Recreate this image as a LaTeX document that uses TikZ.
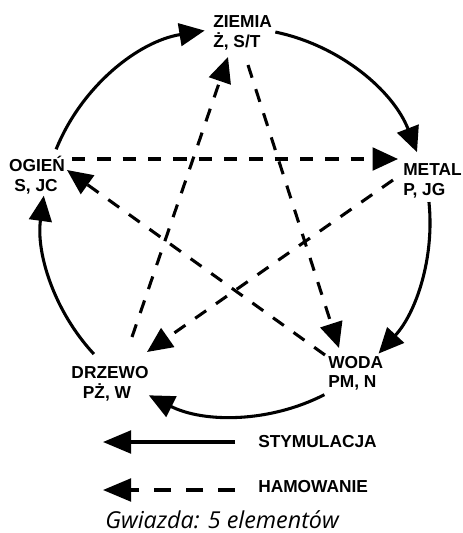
\documentclass[tikz,border=0pt]{standalone}
\usepackage{fontspec}
\setmainfont{Liberation Sans}
\newfontfamily\capfont{Open Sans}
\usetikzlibrary{arrows.meta}

\begin{document}
\begin{tikzpicture}[x=0.75pt,y=-0.75pt,
  lbl/.style={font=\fontsize{13}{15}\selectfont\bfseries, inner sep=0pt},
  leg/.style={font=\fontsize{13}{15}\selectfont\bfseries, inner sep=0pt},
  tipbig/.style={-{Triangle[length=19pt,width=17pt]}},
  stim/.style={line width=2.3pt, tipbig},
  inh/.style={line width=2.3pt, dash pattern=on 10pt off 9pt, tipbig},
  legtip/.style={-{Triangle[length=21pt,width=17pt]}},
]
\useasboundingbox (0,0) rectangle (462,533);

% element labels (name line + code line)
\node[lbl, anchor=base west] (ziemia)  at (213,27)  {ZIEMIA};
\node[lbl, anchor=base west] (ziemiaB) at (213,47)  {Ż, S/T};
\node[lbl, anchor=base west] (metal)   at (403,175) {METAL};
\node[lbl, anchor=base west] (metalB)  at (403,195) {P, JG};
\node[lbl, anchor=base west] (woda)    at (328,368) {WODA};
\node[lbl, anchor=base west] (wodaB)   at (328,387) {PM, N};
\node[lbl, anchor=base]      (drzewo)  at (110,378) {DRZEWO};
\node[lbl, anchor=base]      (drzewoB) at (107,398) {PŻ, W};
\node[lbl, anchor=base]      (ogien)   at (37,171)  {OGIEŃ};
\node[lbl, anchor=base]      (ogienB)  at (36,191)  {S, JC};

% centre of the outer ring
\coordinate (O) at (236,222);

% outer ring: stimulation cycle
\draw[stim] (O) ++(202.0:194) arc[start angle=202.0, end angle=260.7, radius=194];
\draw[stim] (O) ++(281.7:194) arc[start angle=281.7, end angle=338.9, radius=194];
\draw[stim] (O) ++(354.1:194) arc[start angle=354.1, end angle=402.7, radius=194];
\draw[stim] (O) ++(62.9:194)  arc[start angle=62.9,  end angle=116.7, radius=194];
\draw[stim] (O) ++(137.1:194) arc[start angle=137.1, end angle=187.8, radius=194];

% inner star: inhibition
\coordinate (zw1) at (248,65);  \coordinate (zw2) at (339,348);
\coordinate (dz1) at (132,337); \coordinate (dz2) at (228,57);
\coordinate (om1) at (72,159);  \coordinate (om2) at (398,159);
\coordinate (md1) at (393,180); \coordinate (md2) at (147,352);
\coordinate (wo1) at (325,355); \coordinate (wo2) at (67,170);
\draw[inh] (zw1) -- (zw2);
\draw[inh] (dz1) -- (dz2);
\draw[inh] (om1) -- (om2);
\draw[inh] (md1) -- (md2);
\draw[inh] (wo1) -- (wo2);

% legend
\node[leg, anchor=base west] (stym) at (258,447) {STYMULACJA};
\node[leg, anchor=base west] (ham)  at (258,492) {HAMOWANIE};
\coordinate (ls1) at (235,442); \coordinate (ls2) at (103,442);
\coordinate (lh1) at (235,490); \coordinate (lh2) at (103,490);
\draw[line width=2.3pt, legtip] (ls1) -- (ls2);
\draw[line width=2.3pt, dash pattern=on 12.5pt off 11.5pt, legtip] (lh1) -- (lh2);

% caption
\node[inner sep=0pt, anchor=base west, font=\capfont\itshape\fontsize{17.5}{20}\selectfont] (cap) at (105,528) {Gwiazda: 5 elementów};
\end{tikzpicture}
\end{document}
